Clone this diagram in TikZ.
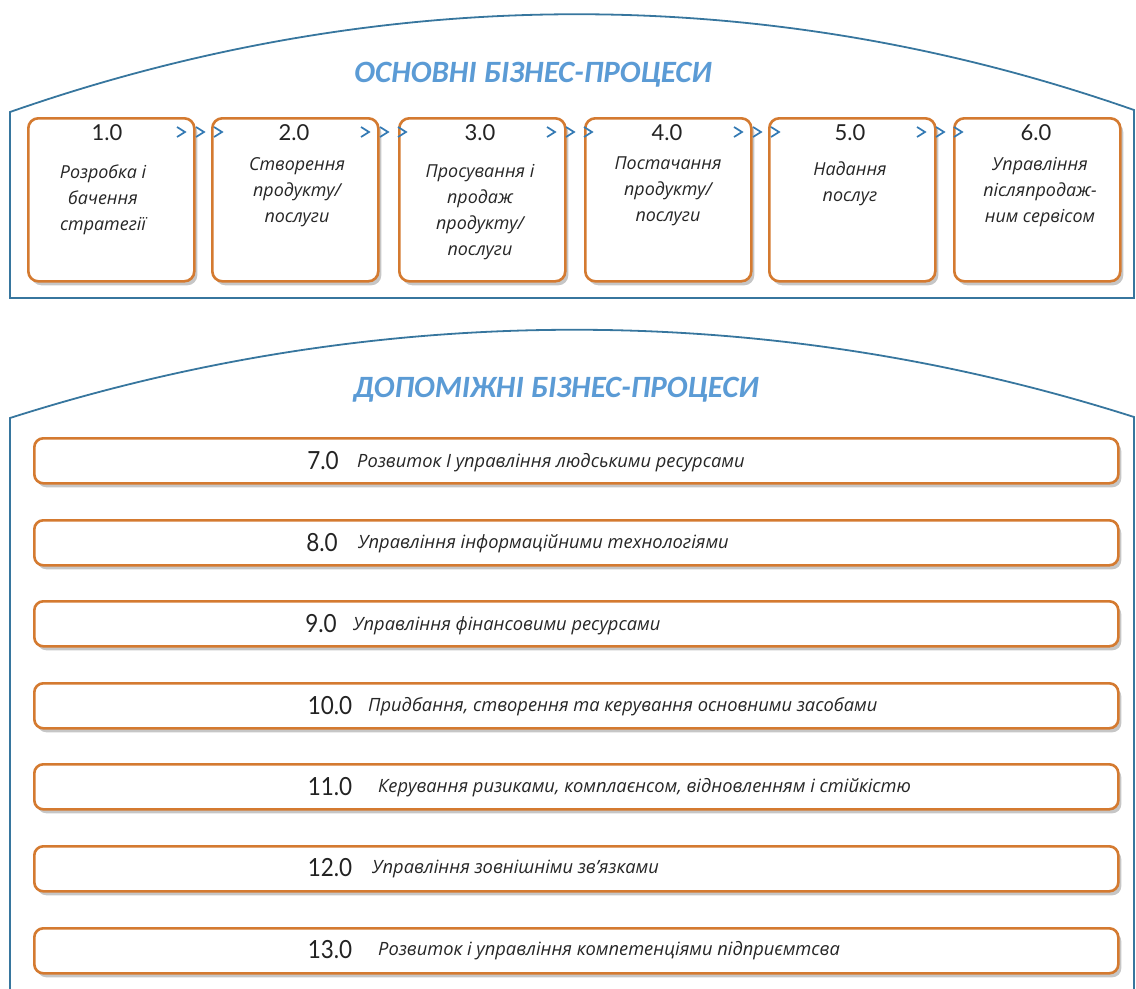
\documentclass[tikz,border=0pt]{standalone}
\usepackage{fontspec}
\setmainfont{Open Sans}
\newfontfamily\numfont{Lato}
\newfontfamily\titlefont{Carlito}
\usetikzlibrary{shadows,calc}
\definecolor{frameblue}{RGB}{55,118,158}
\definecolor{titleblue}{RGB}{91,155,213}
\definecolor{chevblue}{RGB}{52,122,180}
\definecolor{boxorange}{RGB}{212,122,48}
\definecolor{numgray}{RGB}{35,35,35}
\begin{document}
\begin{tikzpicture}[x=1bp,y=-1bp,
  frame/.style={draw=frameblue,line width=1.8bp},
  title/.style={text=titleblue,font=\titlefont\fontsize{31bp}{34bp}\selectfont\bfseries\itshape,inner sep=0pt},
  pbox/.style={draw=boxorange,line width=2.6bp,fill=white,rounded corners=10bp,
    minimum width=166bp,minimum height=163bp,anchor=north west,inner sep=0pt,
    drop shadow={shadow xshift=3bp,shadow yshift=-4bp,opacity=0.45}},
  sbar/.style={draw=boxorange,line width=2.6bp,fill=white,rounded corners=9bp,
    minimum width=1084bp,minimum height=45bp,anchor=north west,inner sep=0pt,
    drop shadow={shadow xshift=3bp,shadow yshift=-4bp,opacity=0.45}},
  pnum/.style={font=\numfont\fontsize{22bp}{26bp}\selectfont,text=numgray,inner sep=0pt},
  ptxt/.style={font=\fontsize{17.9bp}{26bp}\selectfont\itshape,align=center,inner sep=0pt,anchor=north,text=black!85},
  bnum/.style={font=\numfont\fontsize{25bp}{28bp}\selectfont,text=numgray,inner sep=0pt,xscale=0.9},
  btxt/.style={font=\fontsize{18.3bp}{20bp}\selectfont\itshape,inner sep=0pt,anchor=west,text=black!85},
  chev/.style={draw=chevblue,line width=1.7bp}
]
\useasboundingbox (0,0) rectangle (1136,989);
% frames
\draw[frame] (10,298) -- (10,112) .. controls (379,-17) and (766,-19) .. (1134,110) -- (1134,298) -- cycle;
\draw[frame] (10,995) -- (10,418) .. controls (377,301) and (767,300) .. (1134,417) -- (1134,995);
% titles
\node[title] (t1) at (533,75) {ОСНОВНІ БІЗНЕС-ПРОЦЕСИ};
\node[title] (t2) at (556,390) {ДОПОМІЖНІ БІЗНЕС-ПРОЦЕСИ};
% top boxes
\node[pbox] (b1) at (27,117) {};
\node[pbox] (b2) at (211,117) {};
\node[pbox] (b3) at (398,117) {};
\node[pbox] (b4) at (584,117) {};
\node[pbox] (b5) at (768,117) {};
\node[pbox] (b6) at (953,117) {};
% chevrons
\foreach \r in {193,377,563,750,933}{
  \foreach \d in {-12,7,25}{
    \draw[chev] (\r+\d-4,127) -- (\r+\d+4,132) -- (\r+\d-4,137);
  }
}
% numbers
\node[pnum] (n1) at (107,133) {1.0};
\node[pnum] (n2) at (294,133) {2.0};
\node[pnum] (n3) at (480,133) {3.0};
\node[pnum] (n4) at (667,133) {4.0};
\node[pnum] (n5) at (850,133) {5.0};
\node[pnum] (n6) at (1036,133) {6.0};
% texts
\node[ptxt] (x1) at (103,165) {Розробка і\\бачення\\стратегії};
\node[ptxt] (x2) at (297,157) {Створення\\продукту/\\послуги};
\node[ptxt] (x3) at (480,164) {Просування і\\продаж\\продукту/\\послуги};
\node[ptxt] (x4) at (668,157) {Постачання\\продукту/\\послуги};
\node[ptxt] (x5) at (850,162) {Надання\\послуг};
\node[ptxt] (x6) at (1040,157) {Управління\\післяпродаж-\\ним сервісом};
% bars
\node[sbar] (r7) at (33,437) {};
\node[sbar] (r8) at (33,519) {};
\node[sbar] (r9) at (33,600) {};
\node[sbar] (r10) at (33,682) {};
\node[sbar] (r11) at (33,763) {};
\node[sbar] (r12) at (33,845) {};
\node[sbar] (r13) at (33,927) {};
\node[bnum] (m7) at (323,461) {7.0};
\node[bnum] (m8) at (322,543) {8.0};
\node[bnum] (m9) at (321,624) {9.0};
\node[bnum] (m10) at (330,706) {10.0};
\node[bnum] (m11) at (330,787) {11.0};
\node[bnum] (m12) at (330,868) {12.0};
\node[bnum] (m13) at (330,950) {13.0};
\node[btxt] (y7) at (357,463) {Розвиток І управління людськими ресурсами};
\node[btxt] (y8) at (358,544) {Управління інформаційними технологіями};
\node[btxt] (y9) at (353,626) {Управління фінансовими ресурсами};
\node[btxt] (y10) at (368,707) {Придбання, створення та керування основними засобами};
\node[btxt] (y11) at (378,788) {Керування ризиками, комплаєнсом, відновленням і стійкістю};
\node[btxt] (y12) at (372,869) {Управління зовнішніми зв’язками};
\node[btxt] (y13) at (378,951) {Розвиток і управління компетенціями підприємтсва};
\end{tikzpicture}
\end{document}
